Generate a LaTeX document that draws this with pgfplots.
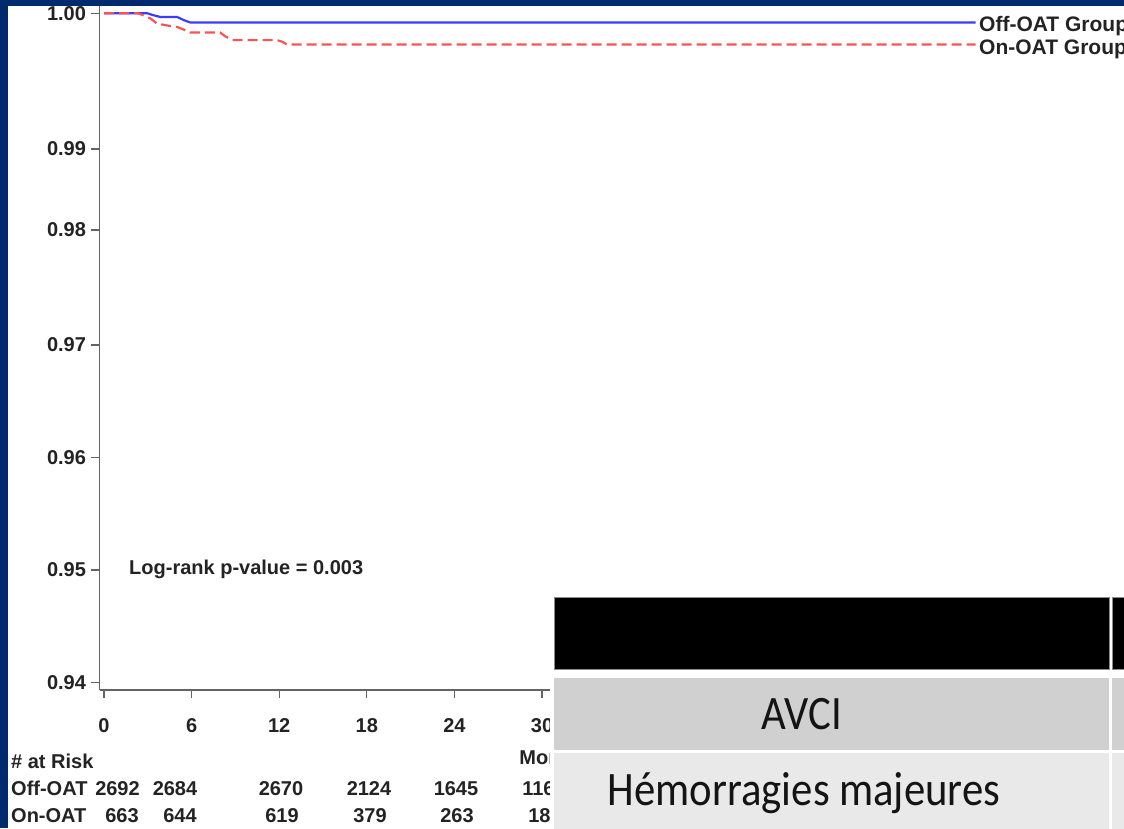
\documentclass[border=0pt]{standalone}
\usepackage{pgfplots}
\pgfplotsset{compat=1.18}
\usepackage{fontspec}
\setmainfont{Liberation Sans}
\newfontfamily\sas{Liberation Sans Bold}
\newfontfamily\slide[FakeStretch=0.89]{Carlito}

\definecolor{slideblue}{RGB}{0,42,110}
\definecolor{kmblue}{RGB}{60,60,255}
\definecolor{kmred}{RGB}{250,85,85}
\definecolor{axisgray}{RGB}{100,100,100}
\definecolor{sastext}{RGB}{35,35,35}
\definecolor{rowdark}{RGB}{208,208,208}
\definecolor{rowlight}{RGB}{233,233,233}

\newcommand\sasfont[1]{\sas\fontsize{#1}{#1}\selectfont}

\begin{document}
\begin{tikzpicture}[x=1pt,y=1pt]
\useasboundingbox (0,0) rectangle (1124,828);
\clip (0,0) rectangle (1124,828);
\fill[slideblue] (0,0) rectangle (1124,828);
\fill[white] (8,0) rectangle (1124,822);

\begin{axis}[
  at={(99.5pt,138pt)}, anchor=south west,
  x=14.6pt, y=1pt,
  xmin=-0.31, xmax=63,
  ymin=0.93933, ymax=1.0005,
  % piecewise scale of the survival axis
  y coord trafo/.code={\pgfmathparse{(#1>=0.99) ? (533.5+(#1-0.99)*13570) :
      ((#1>=0.98) ? (452.5+(#1-0.98)*8100) :
      ((#1>=0.97) ? (337.5+(#1-0.97)*11500) : ((#1-0.94)*11250)))}},
  axis x line*=bottom, axis y line*=left,
  axis line style={-, line width=1.4pt, axisgray},
  tick align=outside, major tick length=8pt,
  tick style={line width=1.2pt, axisgray},
  xtick={0,6,12,18,24,30},
  xticklabels={0,6,12,18,24,30},
  ytick={0.94,0.95,0.96,0.97,0.98,0.99,1.00},
  yticklabels={0.94,0.95,0.96,0.97,0.98,0.99,1.00},
  /pgf/number format/assume math mode=true,
  tick label style={font=\sasfont{20}, text=sastext},
  xticklabel style={yshift=-16.5pt},
  yticklabel style={xshift=-2pt},
]
% Off-OAT group
\addplot[kmblue, line width=2.2pt] coordinates {
  (0,1) (2.95,1) (3.4,0.99985) (3.84,0.99973) (5.0,0.99973)
  (5.45,0.9995) (5.9,0.99932) (59.7,0.99932)
};
% On-OAT group
\addplot[kmred, line width=2.2pt, dash pattern=on 10pt off 5pt] coordinates {
  (0,1) (2.33,1) (2.8,0.9998) (3.2,0.9996) (3.63,0.99924) (4.3,0.9991)
  (5.0,0.99899) (5.45,0.9988) (5.9,0.99858) (7.95,0.99858) (8.3,0.9983)
  (8.8,0.99802) (11.85,0.99802) (12.2,0.9979) (12.53,0.9977) (59.7,0.9977)
};
\end{axis}

% curve labels
\node[anchor=base west, inner sep=0pt, text=sastext, font=\sasfont{21}] at (979,796.3) {Off-OAT Group};
\node[anchor=base west, inner sep=0pt, text=sastext, font=\sasfont{21}] at (979,773) {On-OAT Group};

% test statistic
\node[anchor=base west, inner sep=0pt, text=sastext, font=\sasfont{20}] at (129,254) {Log-rank p-value = 0.003};

% axis title
\node[anchor=base, inner sep=0pt, text=sastext, font=\sasfont{20}] at (555,64) {Months};

% numbers at risk
\begin{scope}[every node/.style={anchor=base, inner sep=0pt, text=sastext, font=\sasfont{20}}]
\node[anchor=base west] at (11,60) {\# at Risk};
\node[anchor=base west] at (11,33) {Off-OAT};
\node[anchor=base west] at (11,6) {On-OAT};
\node at (117.5,33) {2692};
\node at (175,33) {2684};
\node at (281,33) {2670};
\node at (369,33) {2124};
\node at (456,33) {1645};
\node at (544,33) {1163};
\node at (122,6) {663};
\node at (180,6) {644};
\node at (282,6) {619};
\node at (370,6) {379};
\node at (457,6) {263};
\node at (545,6) {182};
\end{scope}

% overlaid table
\fill[white] (550,0) rectangle (1124,234);
\fill[black] (554,158.7) rectangle (1109.3,231);
\draw[black!45, line width=0.8pt] (554,158.7) rectangle (1109.3,231);
\fill[black] (1112,158.7) rectangle (1130,231);
\draw[black!45, line width=0.8pt] (1112,158.7) rectangle (1130,231);
\fill[rowdark] (554,78) rectangle (1109.3,150.3);
\fill[rowdark] (1112,78) rectangle (1130,150.3);
\fill[rowlight] (554,-5) rectangle (1109.3,75.3);
\fill[rowlight] (1112,-5) rectangle (1130,75.3);
\node[anchor=base, inner sep=0pt, text=black!92, font=\slide\fontsize{48}{48}\selectfont] at (802,98.5) {AVCI};
\node[anchor=base, inner sep=0pt, text=black!92, font=\slide\fontsize{48}{48}\selectfont] at (804,22.5) {Hémorragies majeures};
\end{tikzpicture}
\end{document}
